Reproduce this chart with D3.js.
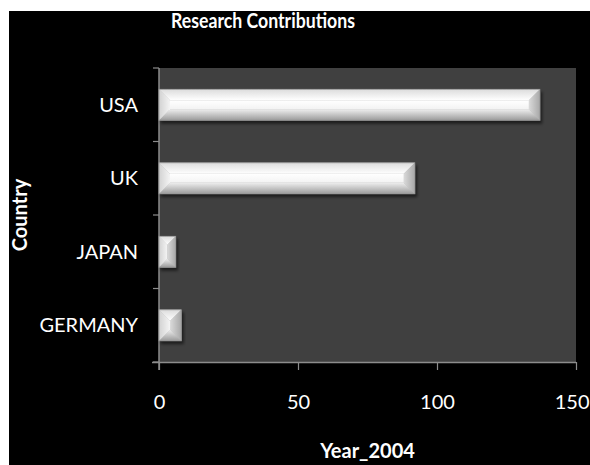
<!DOCTYPE html>
<html>
<head>
<meta charset="utf-8">
<script src="https://cdn.jsdelivr.net/npm/d3@7"></script>
<style>
  html, body { margin: 0; padding: 0; background: #ffffff; }
  svg { display: block; }
</style>
</head>
<body>
<svg id="chart" width="590" height="465"></svg>
<script>
// Research contributions per country, year 2004
const countries = ["USA", "UK", "JAPAN", "GERMANY"];
const contributions = [137, 92, 6, 8];
const xTicks = [0, 50, 100, 150];

const chartTitle = "Research Contributions";
const xTitle = "Year_2004";
const yTitle = "Country";

const W = 590, H = 465;
const frame = { x: 9, y: 11 };
const plot = { left: 159, right: 576, top: 68, bottom: 362 };

const svg = d3.select("#chart");
const defs = svg.append("defs");

// Drop shadow under each bar
const shadow = defs.append("filter").attr("id", "barShadow")
  .attr("x", "-10%").attr("y", "-20%").attr("width", "130%").attr("height", "160%");
shadow.append("feDropShadow")
  .attr("dx", 2).attr("dy", 3).attr("stdDeviation", 1.8)
  .attr("flood-color", "#000").attr("flood-opacity", 0.55);

function grad(id, x1, y1, x2, y2, stops) {
  const g = defs.append("linearGradient").attr("id", id)
    .attr("x1", x1).attr("y1", y1).attr("x2", x2).attr("y2", y2);
  stops.forEach(([o, c]) => g.append("stop").attr("offset", o).attr("stop-color", c));
}
grad("bevTop", 0, 0, 0, 1, [[0, "#dcdcdc"], [1, "#ffffff"]]);
grad("bevBottom", 0, 0, 0, 1, [[0, "#eeeeee"], [1, "#9c9c9c"]]);
grad("bevLeft", 0, 0, 1, 0, [[0, "#d2d2d2"], [1, "#f4f4f4"]]);
grad("bevRight", 0, 0, 1, 0, [[0, "#dadada"], [1, "#a8a8a8"]]);
grad("bevFace", 0, 0, 0, 1, [[0, "#ffffff"], [1, "#f3f3f3"]]);

// Black chart area
svg.append("rect")
  .attr("x", frame.x).attr("y", frame.y)
  .attr("width", W - frame.x).attr("height", H - frame.y)
  .attr("fill", "#000000");

// Plot area
svg.append("rect")
  .attr("x", plot.left).attr("y", plot.top)
  .attr("width", plot.right - plot.left).attr("height", plot.bottom - plot.top)
  .attr("fill", "#404040");

const x = d3.scaleLinear().domain([0, 150]).range([plot.left, plot.right]);
const y = d3.scaleBand().domain(countries).range([plot.top, plot.bottom])
  .paddingInner(0.58).paddingOuter(0.29);

const fontFamily = "Lato, 'Open Sans', sans-serif";

// X axis
const xAxis = svg.append("g")
  .attr("transform", `translate(0,${plot.bottom})`)
  .call(d3.axisBottom(x).tickValues(xTicks).tickSize(8).tickPadding(25).tickSizeOuter(0));
xAxis.select(".domain").attr("stroke", "#8c8c8c").attr("stroke-width", 1.5)
  .attr("d", `M${plot.left - 7},0.5H${plot.right}`);
xAxis.selectAll(".tick line").attr("stroke", "#8c8c8c").attr("stroke-width", 1.2);
xAxis.selectAll(".tick text")
  .attr("fill", "#ffffff").attr("font-family", fontFamily).attr("font-size", 20);
// The last label runs against the right edge; keep it inside the page
xAxis.selectAll(".tick text").filter(d => d === 150).attr("text-anchor", "end").attr("dx", 13);

// Y axis: ticks sit on the band boundaries
const yAxis = svg.append("g").attr("transform", `translate(${plot.left},0)`);
yAxis.append("line")
  .attr("x1", 0).attr("x2", 0).attr("y1", plot.top).attr("y2", plot.bottom + 8)
  .attr("stroke", "#8c8c8c").attr("stroke-width", 1.5);
const boundaries = d3.range(countries.length + 1).map(i => plot.top + i * (plot.bottom - plot.top) / countries.length);
yAxis.selectAll("line.tk").data(boundaries).join("line").attr("class", "tk")
  .attr("x1", -6).attr("x2", 0).attr("y1", d => d).attr("y2", d => d)
  .attr("stroke", "#8c8c8c").attr("stroke-width", 1.2);
yAxis.selectAll("text").data(countries).join("text")
  .attr("x", -21)
  .attr("y", d => y(d) + y.bandwidth() / 2)
  .attr("dy", "0.36em")
  .attr("text-anchor", "end")
  .attr("fill", "#ffffff").attr("font-family", fontFamily).attr("font-size", 20)
  .text(d => d);

// Bevelled bars
const data = countries.map((c, i) => ({ country: c, value: contributions[i] }));
const bars = svg.append("g").selectAll("g.bar").data(data).join("g")
  .attr("class", "bar")
  .attr("filter", "url(#barShadow)")
  .attr("transform", d => `translate(${x(0)},${y(d.country)})`);

bars.each(function (d) {
  const g = d3.select(this);
  const w = x(d.value) - x(0);
  const h = y.bandwidth();
  const b = Math.min(11, w / 2, h / 2);
  const poly = (pts, fill) => g.append("polygon")
    .attr("points", pts.map(p => p.join(",")).join(" "))
    .attr("fill", fill);
  g.append("rect").attr("width", w).attr("height", h).attr("fill", "#b5b5b5");
  poly([[0, 0], [w, 0], [w - b, b], [b, b]], "url(#bevTop)");
  poly([[0, h], [w, h], [w - b, h - b], [b, h - b]], "url(#bevBottom)");
  poly([[0, 0], [b, b], [b, h - b], [0, h]], "url(#bevLeft)");
  poly([[w, 0], [w - b, b], [w - b, h - b], [w, h]], "url(#bevRight)");
  if (w - 2 * b > 0) {
    g.append("rect").attr("x", b).attr("y", b)
      .attr("width", w - 2 * b).attr("height", Math.max(0, h - 2 * b))
      .attr("fill", "url(#bevFace)");
  }
  g.append("rect").attr("width", w).attr("height", h)
    .attr("fill", "none").attr("stroke", "#9a9a9a").attr("stroke-width", 0.8);
});

// Titles
svg.append("text")
  .attr("x", 263).attr("y", 28)
  .attr("text-anchor", "middle")
  .attr("fill", "#ffffff").attr("font-family", fontFamily)
  .attr("font-weight", "bold").attr("font-size", 21)
  .attr("textLength", 184).attr("lengthAdjust", "spacingAndGlyphs")
  .text(chartTitle);

svg.append("text")
  .attr("x", (plot.left + plot.right) / 2).attr("y", 458)
  .attr("text-anchor", "middle")
  .attr("fill", "#ffffff").attr("font-family", fontFamily)
  .attr("font-weight", "bold").attr("font-size", 20)
  .text(xTitle);

svg.append("text")
  .attr("transform", `translate(27,${(plot.top + plot.bottom) / 2}) rotate(-90)`)
  .attr("text-anchor", "middle")
  .attr("fill", "#ffffff").attr("font-family", fontFamily)
  .attr("font-weight", "bold").attr("font-size", 20)
  .text(yTitle);
</script>
</body>
</html>
